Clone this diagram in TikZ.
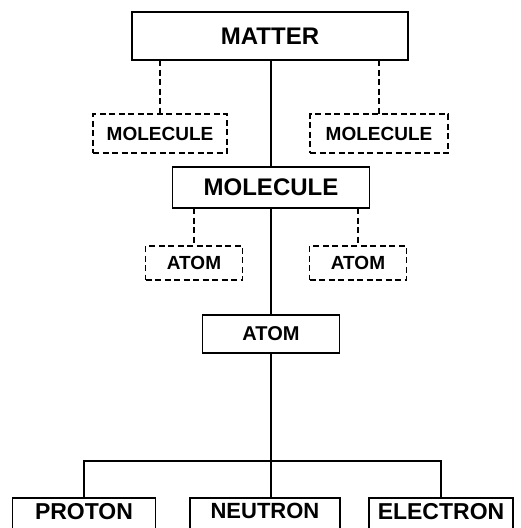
\documentclass[tikz,border=0pt]{standalone}
\usepackage{fontspec}
\setmainfont{Liberation Sans}
\begin{document}
\begin{tikzpicture}[x=1pt, y=1pt, yscale=-1, inner sep=0pt, outer sep=0pt,
  solidbox/.style={draw, line width=1.6pt, font=\bfseries},
  dashbox/.style={draw, line width=1.4pt, dash pattern=on 6pt off 3.5pt, font=\bfseries},
  link/.style={line width=1.5pt},
  dashlink/.style={line width=1.5pt, dash pattern=on 6pt off 3.5pt}]
\clip (0,0) rectangle (521,528);

\node[solidbox, minimum width=276pt, minimum height=48pt, font=\bfseries\fontsize{24}{24}\selectfont] (matter) at (270,36) {MATTER};
\node[dashbox, minimum width=134pt, minimum height=39pt, font=\bfseries\fontsize{19}{19}\selectfont] (molL) at (160,133.5) {MOLECULE};
\node[dashbox, minimum width=138pt, minimum height=39pt, font=\bfseries\fontsize{19}{19}\selectfont] (molR) at (379,133.5) {MOLECULE};
\node[solidbox, minimum width=197pt, minimum height=41pt, font=\bfseries\fontsize{24}{24}\selectfont] (molecule) at (271,187.5) {MOLECULE};
\node[dashbox, minimum width=97pt, minimum height=34pt, font=\bfseries\fontsize{19}{19}\selectfont] (atomL) at (194,263) {ATOM};
\node[dashbox, minimum width=97pt, minimum height=34pt, font=\bfseries\fontsize{19}{19}\selectfont] (atomR) at (358,263) {ATOM};
\node[solidbox, minimum width=137pt, minimum height=38pt, font=\bfseries\fontsize{20}{20}\selectfont] (atom) at (271,334) {ATOM};
% particles, cut by the lower edge
\node[solidbox, minimum width=143pt, minimum height=36pt, text depth=10pt, font=\bfseries\fontsize{23}{23}\selectfont] (proton) at (84,516) {PROTON};
\node[solidbox, minimum width=150pt, minimum height=36pt, text depth=10pt, font=\bfseries\fontsize{22}{22}\selectfont] (neutron) at (265,516) {NEUTRON};
\node[solidbox, minimum width=144pt, minimum height=36pt, text depth=10pt, font=\bfseries\fontsize{23}{23}\selectfont] (electron) at (441,516) {ELECTRON};
\coordinate (bus) at (271,461);

\draw[link] (matter.south -| molecule.north) -- (molecule.north);
\draw[link] (molecule.south -| atom.north) -- (atom.north);
\draw[link] (atom.south -| bus) -- (bus);
\draw[link] (proton.north) |- (bus) -| (electron.north);
\draw[link] (bus) -- (bus |- neutron.north);
\draw[dashlink] (molL.north |- matter.south) -- (molL.north);
\draw[dashlink] (molR.north |- matter.south) -- (molR.north);
\draw[dashlink] (atomL.north |- molecule.south) -- (atomL.north);
\draw[dashlink] (atomR.north |- molecule.south) -- (atomR.north);
\end{tikzpicture}
\end{document}
